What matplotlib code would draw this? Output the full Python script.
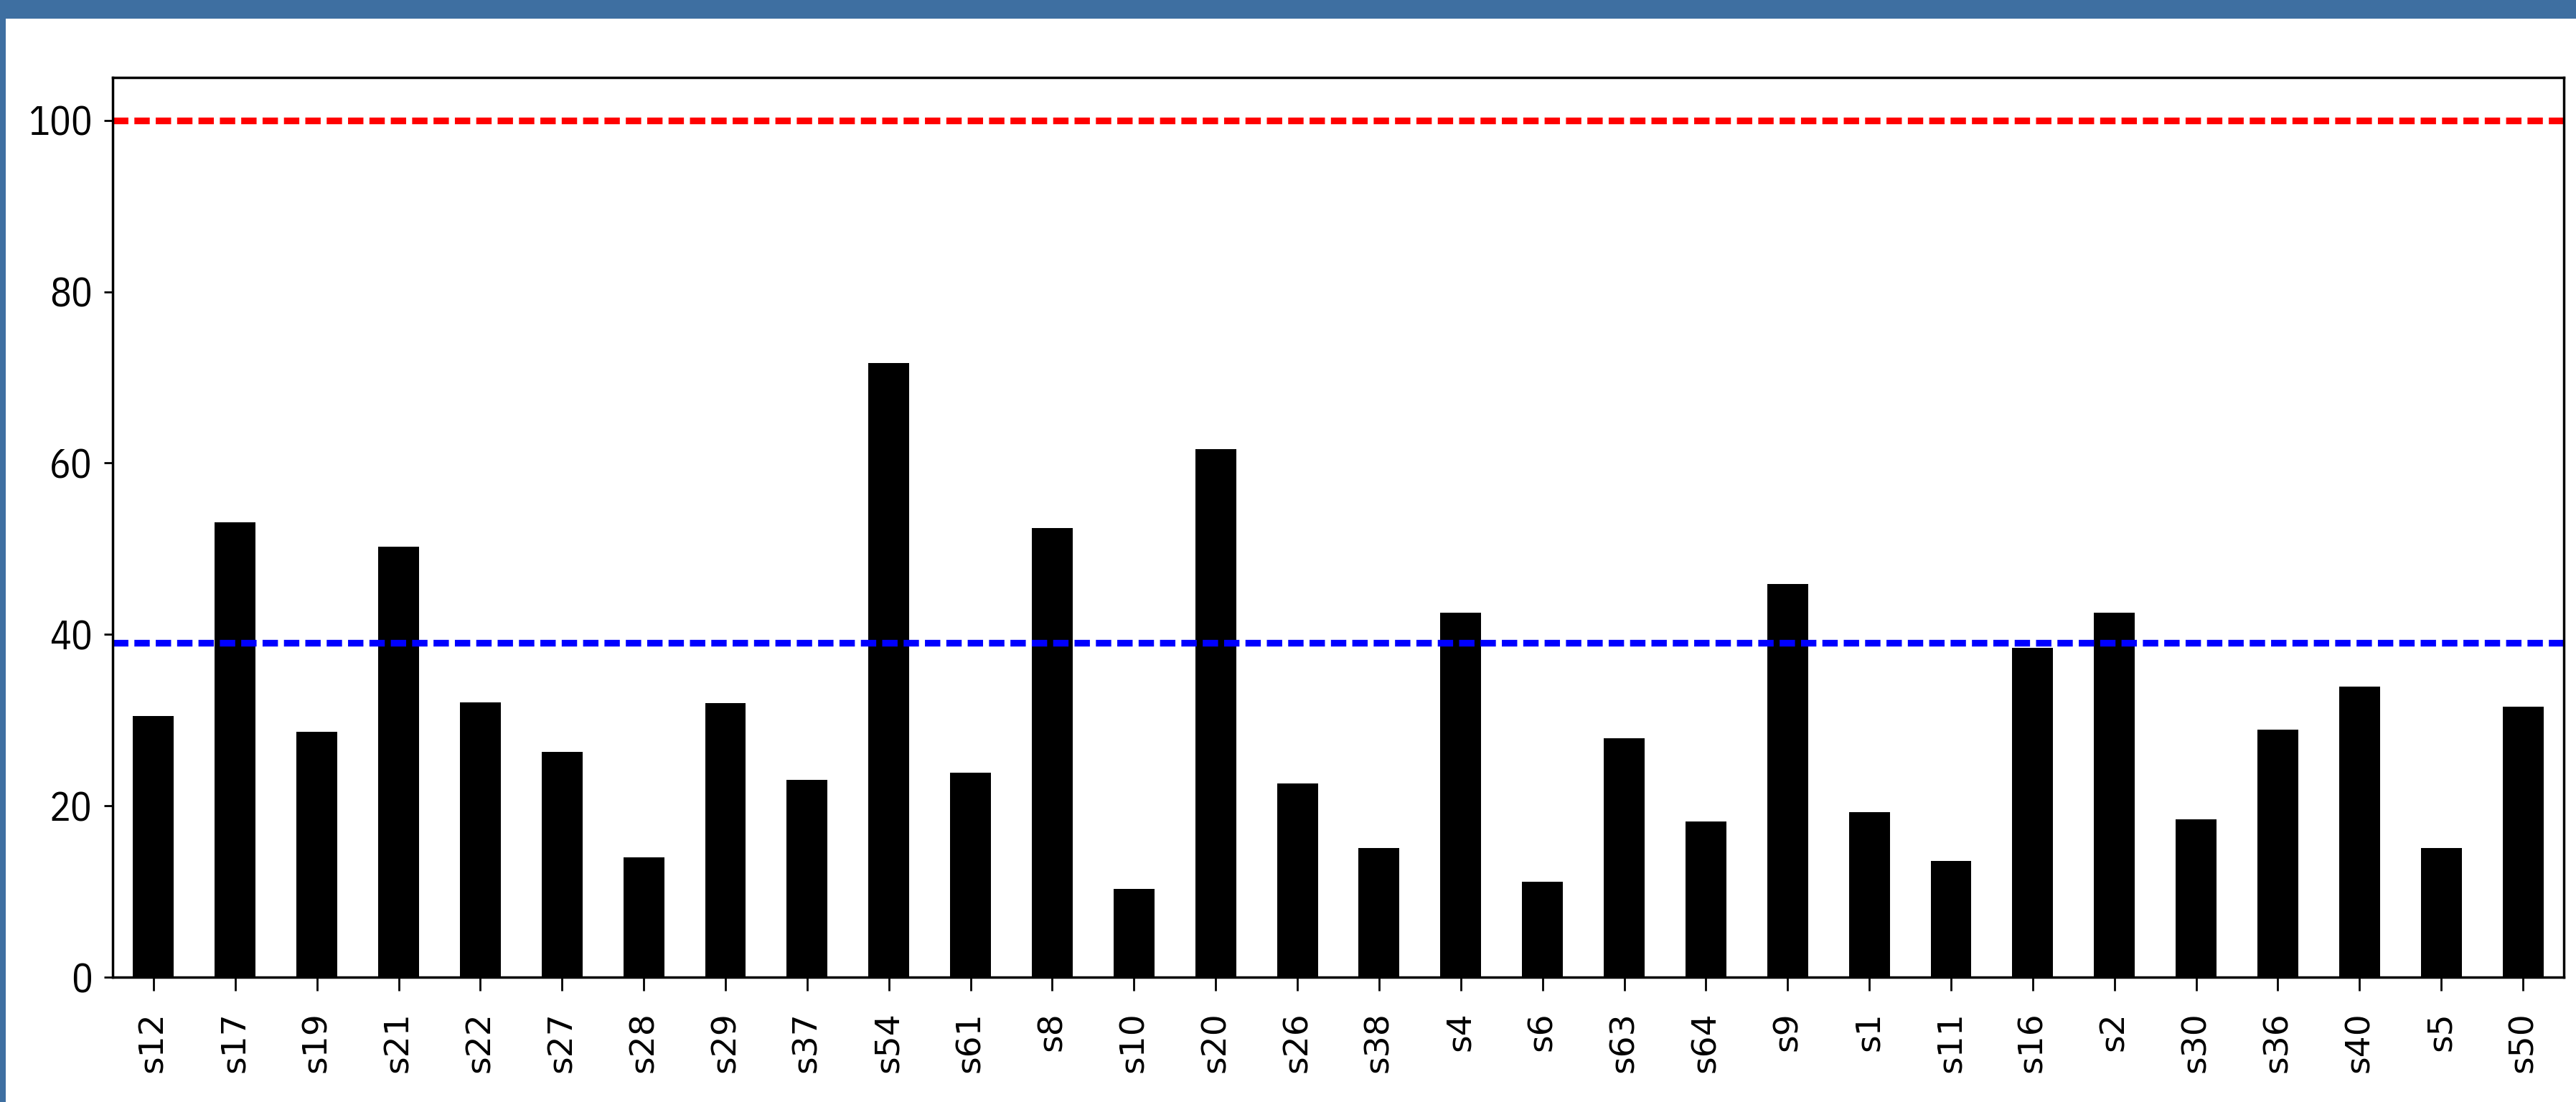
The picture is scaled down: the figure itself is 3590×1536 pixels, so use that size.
import matplotlib
matplotlib.use("Agg")
import matplotlib.pyplot as plt
from matplotlib.patches import Rectangle

# data
subjects = ["s12", "s17", "s19", "s21", "s22", "s27", "s28", "s29", "s37", "s54",
            "s61", "s8", "s10", "s20", "s26", "s38", "s4", "s6", "s63", "s64",
            "s9", "s1", "s11", "s16", "s2", "s30", "s36", "s40", "s5", "s50"]
scores = [30.5, 53.1, 28.6, 50.2, 32.1, 26.3, 14.0, 32.0, 23.0, 71.7,
          23.9, 52.4, 10.3, 61.6, 22.6, 15.1, 42.5, 11.1, 27.9, 18.2,
          45.9, 19.3, 13.6, 38.4, 42.5, 18.4, 28.9, 33.9, 15.1, 31.6]
upper_limit = 100
threshold = 39
yticks = [0, 20, 40, 60, 80, 100]

W, H, DPI = 3590, 1536, 100
frame_color = "#3e6fa1"

fig = plt.figure(figsize=(W / DPI, H / DPI), dpi=DPI)
fig.patch.set_facecolor("white")

# blue window frame along the top and the left edge
fig.patches.append(Rectangle((0, 1 - 26 / H), 1, 26 / H, transform=fig.transFigure,
                             facecolor=frame_color, edgecolor="none", zorder=10))
fig.patches.append(Rectangle((0, 0), 8 / W, 1, transform=fig.transFigure,
                             facecolor=frame_color, edgecolor="none", zorder=10))

left, right = 157 / W, 3573 / W
bottom, top = 1 - 1362 / H, 1 - 108 / H
ax = fig.add_axes([left, bottom, right - left, top - bottom])

x = range(len(subjects))
ax.bar(x, scores, width=0.5, color="black")
ax.axhline(upper_limit, color="red", linewidth=6.7, linestyle=(0, (2.3, 0.9)))
ax.axhline(threshold, color="blue", linewidth=6.7, linestyle=(0, (2.3, 0.9)))

ax.set_xlim(-0.5, len(subjects) - 0.5)
ax.set_ylim(0, 105)
ax.set_xticks(list(x))
ax.set_xticklabels(subjects, rotation=90, fontsize=34, family="DejaVu Sans")
ax.set_yticks(yticks)
ax.set_yticklabels([str(t) for t in yticks], fontsize=40,
                   family=["IBM Plex Sans Condensed", "DejaVu Sans"])

ax.tick_params(axis="x", length=14, width=2, pad=21)
ax.tick_params(axis="y", length=8.5, width=2, pad=12)
for spine in ax.spines.values():
    spine.set_linewidth(2.5)

fig.savefig("out.png", dpi=DPI)
